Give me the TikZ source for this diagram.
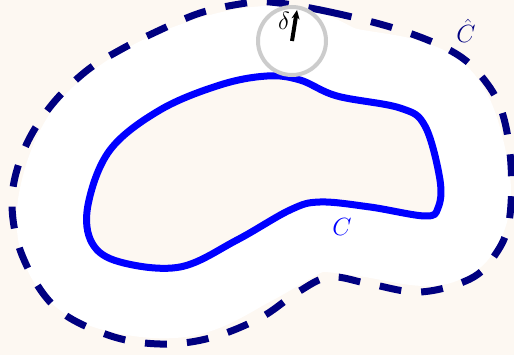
\documentclass[tikz,border=0pt]{standalone}
\usetikzlibrary{arrows.meta}
\definecolor{bg}{RGB}{253,248,242}
\definecolor{hatnavy}{RGB}{0,0,128}
\definecolor{circgray}{RGB}{204,204,204}
\tikzset{
  curveC/.style={draw=blue, line width=7pt, line join=round},
  band/.style={draw=white, line width=140pt, line join=round},
  chat/.style={draw=hatnavy, line width=7pt, dash pattern=on 22pt off 20pt},
  lbl/.style={font=\fontsize{24.88}{30}\selectfont, inner sep=0pt},
}
\begin{document}
\begin{tikzpicture}[x=1pt,y=-1pt]
\fill[bg] (0,0) rectangle (514,355);
\useasboundingbox (0,0) rectangle (514,355);
\def\Cpath{plot[smooth cycle, tension=0.6] coordinates {(267,76) (300,80) (337,96) (400,108) (425,126) (440,180) (438,208) (425,216) (370,207) (320,202) (290,210) (237,240) (180,267) (120,262) (92,243) (88,205) (110,150) (160,110) (220,85)}}
\path[band] \Cpath;
\fill[bg] \Cpath;
\path[curveC] \Cpath;
\path[chat] plot[smooth cycle, tension=0.6] coordinates {(270,2) (330,12) (400,30) (453,52) (482,77) (502,112) (511,165) (509,222) (495,255) (470,279) (420,292) (370,284) (330,277) (298,292) (260,318) (210,338) (160,344) (108,335) (55,307) (22,255) (12,200) (24,150) (50,107) (85,72) (120,50) (160,30) (200,13) (240,4)};
\node[draw=circgray, line width=4pt, circle, minimum size=68pt, inner sep=0pt] (circ) at (292,41) {};
\coordinate (tip) at (297,10);
\draw[line width=4pt, -{Stealth[length=9pt,width=8pt]}] (circ.center) -- (tip);
\node[lbl] (delta) at (284,21) {$\delta$};
\node[lbl, text=hatnavy] (chatlbl) at (466,31) {$\hat{C}$};
\node[lbl, text=blue] (clbl) at (342,227) {$C$};
\end{tikzpicture}
\end{document}
